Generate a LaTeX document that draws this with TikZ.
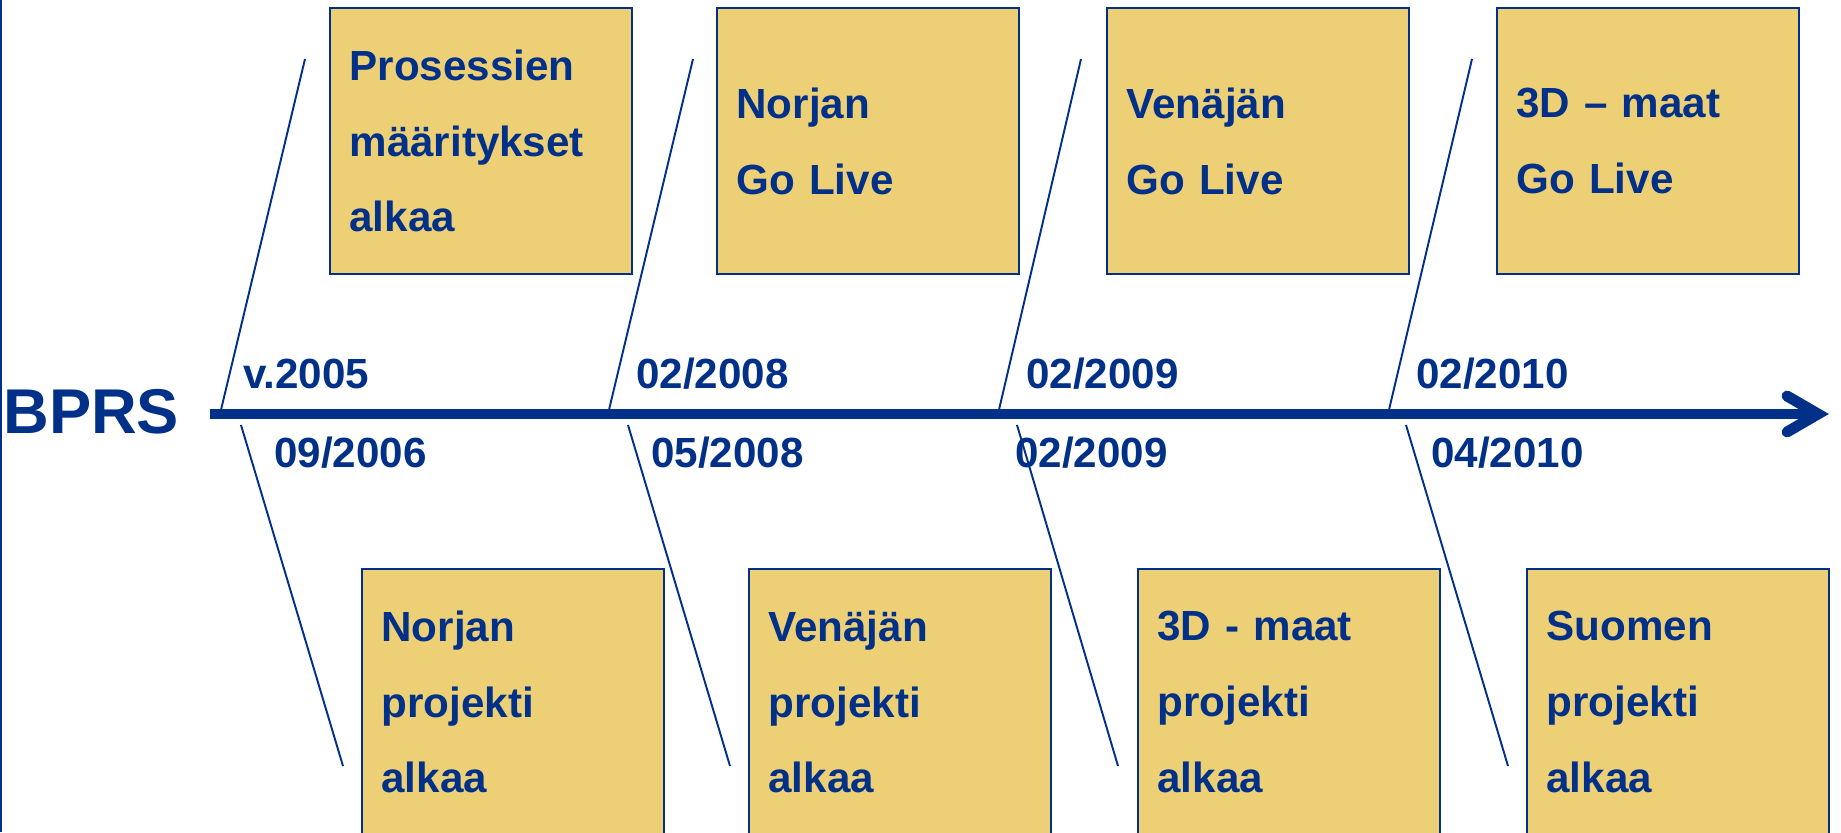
\documentclass[tikz,border=0pt]{standalone}
\usepackage{fontspec}
\setmainfont{Liberation Sans}
\usepackage{tikz}

\definecolor{bprsblue}{RGB}{0,48,135}
\definecolor{boxgold}{RGB}{237,208,118}

\tikzset{
  milestone/.style={rectangle, draw=bprsblue, line width=1.4pt, fill=boxgold,
    minimum width=6.04cm, minimum height=5.32cm, text width=5.26cm,
    inner xsep=0.39cm, inner ysep=0pt, align=left, text=bprsblue,
    font=\fontsize{24}{43.2}\selectfont\bfseries},
  datelabel/.style={anchor=base west, inner sep=0pt, text=bprsblue,
    font=\fontsize{24}{28}\selectfont\bfseries},
  stem/.style={draw=bprsblue, line width=1.1pt},
  timeaxis/.style={draw=bprsblue, line width=5.6pt},
}

\begin{document}
\begin{tikzpicture}[line join=miter, x=0.02cm, y=0.02cm]
  \useasboundingbox (0,0) rectangle (1841,832);
  \clip (0,0) rectangle (1841,832);

  % slide edge
  \draw[stem] (1,0) -- (1,832);

  % Stems above the axis
  \coordinate (up1) at (220,418);  \coordinate (uptop1) at (305,773);
  \coordinate (up2) at (608,418);  \coordinate (uptop2) at (693,773);
  \coordinate (up3) at (998,418);  \coordinate (uptop3) at (1081,773);
  \coordinate (up4) at (1388,418); \coordinate (uptop4) at (1472,773);
  \draw[stem] (up1) -- (uptop1);
  \draw[stem] (up2) -- (uptop2);
  \draw[stem] (up3) -- (uptop3);
  \draw[stem] (up4) -- (uptop4);

  % Stems below the axis
  \coordinate (lo1) at (241,407);  \coordinate (lobot1) at (343,66);
  \coordinate (lo2) at (628,407);  \coordinate (lobot2) at (730,66);
  \coordinate (lo3) at (1017,407); \coordinate (lobot3) at (1118,66);
  \coordinate (lo4) at (1406,407); \coordinate (lobot4) at (1508,66);
  \draw[stem] (lo1) -- (lobot1);
  \draw[stem] (lo2) -- (lobot2);
  \draw[stem] (lo3) -- (lobot3);
  \draw[stem] (lo4) -- (lobot4);

  % Time axis
  \node[anchor=base west, inner sep=0pt, text=bprsblue,
    font=\fontsize{36}{40}\selectfont\bfseries] (bprs) at (3,398) {BPRS};
  \coordinate (axisstart) at (210,418);
  \coordinate (axisend) at (1818,418);
  \draw[timeaxis] (axisstart) -- (axisend);
  \draw[timeaxis, line width=6.2pt, line cap=round] ([shift={(-31,18)}]axisend)
    -- (axisend) -- ([shift={(-31,-18)}]axisend);

  % Dates
  \node[datelabel] (d2005) at (243,443) {v.2005};
  \node[datelabel] (d0208) at (636,443) {02/2008};
  \node[datelabel] (d0209) at (1026,443) {02/2009};
  \node[datelabel] (d0210) at (1416,443) {02/2010};
  \node[datelabel] (d0906) at (274,364) {09/2006};
  \node[datelabel] (d0508) at (651,364) {05/2008};
  \node[datelabel] (d0209b) at (1015,364) {02/2009};
  \node[datelabel] (d0410) at (1431,364) {04/2010};

  % Upper milestones
  \node[milestone] (defs) at (481,691) {Prosessien\\määritykset\\alkaa};
  \node[milestone] (norlive) at (868,691) {Norjan\\Go Live};
  \node[milestone] (ruslive) at (1258,691) {Venäjän\\Go Live};
  \node[milestone] (dlive) at (1648,691) {3D – maat\\Go Live};

  % Lower milestones
  \node[milestone] (norstart) at (513,130) {Norjan\\projekti\\alkaa};
  \node[milestone] (russtart) at (900,130) {Venäjän\\projekti\\alkaa};
  \node[milestone] (dstart) at (1289,130) {3D - maat\\projekti\\alkaa};
  \node[milestone] (finstart) at (1678,130) {Suomen\\projekti\\alkaa};
\end{tikzpicture}
\end{document}
